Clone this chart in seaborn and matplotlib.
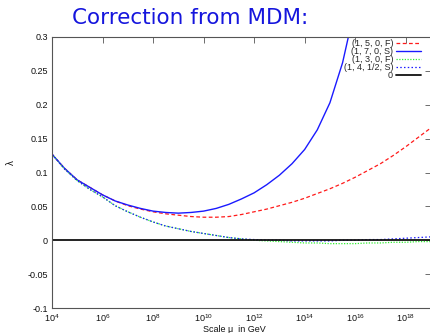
import numpy as np
import pandas as pd
import matplotlib
matplotlib.use("Agg")
import matplotlib.pyplot as plt
from matplotlib.ticker import LogFormatterMathtext, FixedLocator
import seaborn as sns

# log10 of the renormalisation scale mu (GeV), half-decade steps
log_mu = [4.0, 4.5, 5.0, 5.5, 6.0, 6.5, 7.0, 7.5, 8.0, 8.5, 9.0, 9.5, 10.0,
          10.5, 11.0, 11.5, 12.0, 12.5, 13.0, 13.5, 14.0, 14.5, 15.0, 15.5,
          16.0, 16.5, 17.0, 17.5, 18.0, 18.5, 19.0]

# Higgs quartic coupling lambda(mu) for each MDM multiplet
lam_15F = [0.127, 0.106, 0.089, 0.078, 0.067, 0.058, 0.051, 0.046, 0.042,
           0.039, 0.037, 0.035, 0.034, 0.034, 0.035, 0.038, 0.042, 0.046,
           0.051, 0.056, 0.062, 0.069, 0.076, 0.084, 0.093, 0.103, 0.113,
           0.125, 0.138, 0.152, 0.166]
lam_17S = [0.127, 0.106, 0.089, 0.078, 0.067, 0.058, 0.052, 0.047, 0.043,
           0.041, 0.040, 0.041, 0.043, 0.047, 0.053, 0.061, 0.070, 0.082,
           0.096, 0.113, 0.134, 0.163, 0.203, 0.262, 0.345]
lam_13F = [0.127, 0.105, 0.088, 0.075, 0.064, 0.051, 0.042, 0.034, 0.027,
           0.021, 0.017, 0.013, 0.010, 0.007, 0.004, 0.002, 0.000, -0.001,
           -0.002, -0.003, -0.004, -0.004, -0.005, -0.005, -0.005, -0.004,
           -0.004, -0.003, -0.003, -0.002, -0.002]
lam_14S = [0.127, 0.105, 0.088, 0.075, 0.064, 0.051, 0.042, 0.034, 0.027,
           0.021, 0.017, 0.013, 0.010, 0.007, 0.004, 0.002, 0.001, 0.000,
           0.000, -0.001, -0.001, -0.001, -0.001, 0.000, 0.000, 0.001,
           0.001, 0.002, 0.003, 0.004, 0.005]
zero_line = [0.0, 0.0]
zero_mu = [4.0, 19.0]

series = [
    ("(1, 5, 0, F)", log_mu, lam_15F, "#ff1a1a", (0, (3.0, 2.0)), 0.9),
    ("(1, 7, 0, S)", log_mu[:len(lam_17S)], lam_17S, "#1a1aff", "-", 1.0),
    ("(1, 3, 0, F)", log_mu, lam_13F, "#33ee33", (0, (1.0, 1.2)), 0.9),
    ("(1, 4, 1/2, S)", log_mu, lam_14S, "#1a1aff", (0, (1.2, 1.8)), 0.9),
    ("0", zero_mu, zero_line, "#111111", "-", 1.3),
]

sns.set_style("white")
plt.rcParams["font.family"] = ["Liberation Sans", "DejaVu Sans"]
plt.rcParams["mathtext.fontset"] = "custom"
plt.rcParams["mathtext.rm"] = "Liberation Sans"
plt.rcParams["mathtext.it"] = "Liberation Sans"
plt.rcParams["mathtext.default"] = "regular"

fig = plt.figure(figsize=(4.30, 3.33), dpi=100)
ax = fig.add_axes([52 / 430, 25 / 333, 379 / 430, 271 / 333])

for label, xs, ys, color, ls, lw in series:
    df = pd.DataFrame({"mu": np.power(10.0, xs), "lam": ys})
    sns.lineplot(data=df, x="mu", y="lam", ax=ax, color=color,
                 linestyle=ls, linewidth=lw, label=label, sort=False)

ax.set_xscale("log")
ax.set_xlim(1e4, 1e19)
ax.set_ylim(-0.1, 0.3)

ax.xaxis.set_major_locator(FixedLocator([10.0 ** k for k in range(4, 19, 2)]))
ax.xaxis.set_minor_locator(FixedLocator([]))
ax.xaxis.set_major_formatter(LogFormatterMathtext())
ax.set_yticks([0.3, 0.25, 0.2, 0.15, 0.1, 0.05, 0.0, -0.05, -0.1])
ax.set_yticklabels(["0.3", "0.25", "0.2", "0.15", "0.1", "0.05", "0",
                    "-0.05", "-0.1"])

ax.tick_params(axis="both", which="major", direction="in", length=4,
               width=0.6, color="#555555", labelsize=6.5, pad=3,
               top=True, right=True, labelcolor="#111111")
for sp in ax.spines.values():
    sp.set_color("#555555")
    sp.set_linewidth(0.8)

ax.set_xlabel("Scale \u03bc  in GeV", fontsize=6.5, color="#111111")
ax.set_ylabel("\u03bb", fontsize=7, color="#111111")
ax.xaxis.set_label_coords((234 - 52) / 379, -17 / 271)
ax.yaxis.set_label_coords(-36 / 379, (308 - 163) / 271)

leg = ax.legend(loc="upper right", bbox_to_anchor=(421 / 430, 1 - 39 / 333),
                bbox_transform=fig.transFigure, frameon=False,
                markerfirst=False, fontsize=6.5, handlelength=2.8,
                handletextpad=0.3, labelspacing=-0.1, borderpad=0,
                borderaxespad=0)

fig.text(190 / 430, 1 - 18 / 333, "Correction from MDM:", ha="center",
         va="center", fontsize=15.5, color="#1515dd", family="DejaVu Sans")

fig.savefig("out.png", dpi=100)
